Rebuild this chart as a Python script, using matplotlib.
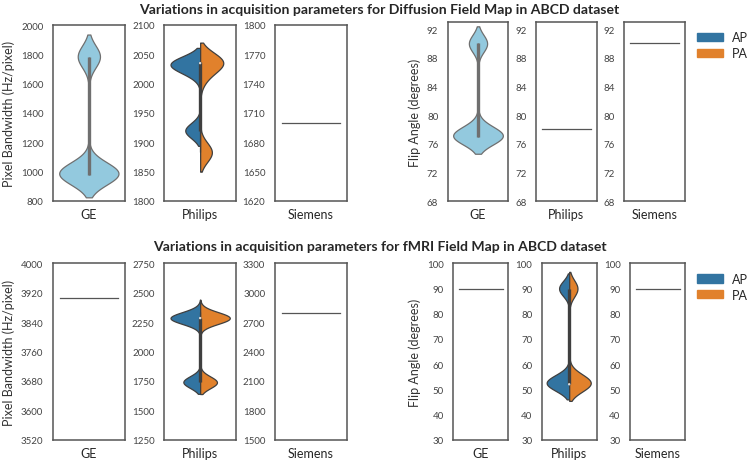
import numpy as np
import matplotlib
matplotlib.use("Agg")
import matplotlib.pyplot as plt
from matplotlib.patches import Patch

plt.rcParams['font.family'] = ['Lato', 'DejaVu Sans']

# ---------------- data ----------------
manufacturers = ["GE", "Philips", "Siemens"]
directions = ["AP", "PA"]

titles = ["Variations in acquisition parameters for Diffusion Field Map in ABCD dataset",
          "Variations in acquisition parameters for fMRI Field Map in ABCD dataset"]
bw_label = "Pixel Bandwidth (Hz/pixel)"
fa_label = "Flip Angle (degrees)"

# Diffusion field map: pixel bandwidth (Hz/pixel)
dwi_bw_ge_values = [975, 1000, 1785]
dwi_bw_ge_counts = [36, 37, 27]
dwi_bw_philips_ap_values = [1920, 2020, 2035]
dwi_bw_philips_ap_counts = [31, 17, 52]
dwi_bw_philips_pa_values = [1883, 2012, 2037]
dwi_bw_philips_pa_counts = [31, 12, 57]
dwi_bw_siemens_value = 1700
# Diffusion field map: flip angle (degrees)
dwi_fa_ge_values = [77, 78, 90]
dwi_fa_ge_counts = [62, 12, 26]
dwi_fa_philips_value = 78
dwi_fa_siemens_value = 90

# fMRI field map: pixel bandwidth (Hz/pixel)
fmri_bw_ge_value = 3906
fmri_bw_philips_ap_values = [1740, 2284, 2340]
fmri_bw_philips_ap_counts = [36, 63, 1]
fmri_bw_philips_pa_values = [1738, 2284, 2340]
fmri_bw_philips_pa_counts = [36, 63, 1]
fmri_bw_siemens_value = 2790
# fMRI field map: flip angle (degrees)
fmri_fa_ge_value = 90
fmri_fa_philips_ap_values = [52, 54, 90]
fmri_fa_philips_ap_counts = [50, 20, 30]
fmri_fa_philips_pa_values = [52, 54, 90]
fmri_fa_philips_pa_counts = [53, 20, 27]
fmri_fa_siemens_value = 90

# axis ranges / ticks
ylims = {
    "dwi_bw": [(800, 2000, 200), (1800, 2100, 50), (1620, 1800, 30)],
    "dwi_fa": [(68, 93, 4), (68, 93, 4), (68, 93, 4)],
    "fmri_bw": [(3520, 4000, 80), (1250, 2750, 250), (1500, 3300, 300)],
    "fmri_fa": [(30, 100, 10), (30, 100, 10), (30, 100, 10)],
}

# ---------------- style ----------------
W, H = 750, 464
GE_COLOR = "#93c9de"
AP_COLOR = "#3274a1"
PA_COLOR = "#e1812c"
GRAY_LIGHT = "#6f6f6f"
GRAY_DARK = "#3f3f3f"
SINGLE_GRAY = "#555555"
SPINE = "#555555"
TXT = "#262626"
HALF = 0.41

fig = plt.figure(figsize=(W / 100, H / 100), dpi=100)


def add_ax(x0, y_top, w, h):
    return fig.add_axes([x0 / W, 1 - (y_top + h) / H, w / W, h / H])


def style_ax(ax, name, lim):
    lo, hi, step = lim
    ax.set_xlim(-0.5, 0.5)
    ax.set_ylim(lo, hi)
    ax.set_yticks(np.arange(lo, hi + 0.01, step))
    ax.set_xticks([0])
    ax.set_xticklabels([name])
    ax.tick_params(axis='y', length=0, pad=6.8, labelsize=7, labelcolor="#444444")
    ax.tick_params(axis='x', length=0, pad=5, labelsize=9, labelcolor=TXT)
    for s in ax.spines.values():
        s.set_color(SPINE)
        s.set_linewidth(1.1)


def kde(values, counts, bw):
    v = np.asarray(values, float)
    w = np.asarray(counts, float)
    grid = np.linspace(v.min() - 2 * bw, v.max() + 2 * bw, 200)
    d = (w[:, None] * np.exp(-0.5 * ((grid[None, :] - v[:, None]) / bw) ** 2)).sum(0)
    d /= (w.sum() * bw * np.sqrt(2 * np.pi))
    return grid, d


def inner_box(ax, all_vals, gray, dot=True):
    q1, q2, q3 = np.percentile(all_vals, [25, 50, 75])
    iqr = q3 - q1
    lo = all_vals[all_vals >= q1 - 1.5 * iqr].min()
    hi = all_vals[all_vals <= q3 + 1.5 * iqr].max()
    ax.plot([0, 0], [lo, hi], color=gray, lw=0.9, solid_capstyle='butt', zorder=3)
    ax.plot([0, 0], [q1, q3], color=gray, lw=2.4, solid_capstyle='butt', zorder=3)
    if dot:
        ax.scatter([0], [q2], s=3, color="#dddddd", edgecolor='none', zorder=4)


def violin(ax, values, counts, bw, color, gray):
    g, d = kde(values, counts, bw)
    hw = HALF * d / d.max()
    ax.fill_betweenx(g, -hw, hw, facecolor=color, edgecolor=gray, lw=0.9, zorder=2)
    inner_box(ax, np.repeat(values, counts).astype(float), gray, dot=False)


def split_violin(ax, vals_a, cnt_a, bw_a, vals_b, cnt_b, bw_b):
    ga, da = kde(vals_a, cnt_a, bw_a)
    gb, db = kde(vals_b, cnt_b, bw_b)
    m = max(da.max(), db.max())
    ax.fill_betweenx(ga, 0, -HALF * da / m, facecolor=AP_COLOR, edgecolor=GRAY_DARK, lw=0.9, zorder=2)
    ax.fill_betweenx(gb, 0, HALF * db / m, facecolor=PA_COLOR, edgecolor=GRAY_DARK, lw=0.9, zorder=2)
    allv = np.concatenate([np.repeat(vals_a, cnt_a), np.repeat(vals_b, cnt_b)]).astype(float)
    inner_box(ax, allv, GRAY_DARK)


def single(ax, value):
    ax.plot([-0.4, 0.4], [value, value], color=SINGLE_GRAY, lw=0.9)


bw_x = [52.7, 164.0, 274.7]
bw_w = 72.3
top_fa_x = [447.7, 536.0, 624.3]
top_fa_w = 60.6
bot_fa_x = [453.4, 541.7, 630.0]
bot_fa_w = 55.0

# ---------- top row: diffusion ----------
axs = [add_ax(x, 26, bw_w, 176) for x in bw_x]
for ax, name, lim in zip(axs, manufacturers, ylims["dwi_bw"]):
    style_ax(ax, name, lim)
violin(axs[0], dwi_bw_ge_values, dwi_bw_ge_counts, 75, GE_COLOR, GRAY_LIGHT)
split_violin(axs[1], dwi_bw_philips_ap_values, dwi_bw_philips_ap_counts, 13,
             dwi_bw_philips_pa_values, dwi_bw_philips_pa_counts, 16.5)
single(axs[2], dwi_bw_siemens_value)

axf = [add_ax(x, 23, top_fa_w, 179) for x in top_fa_x]
for ax, name, lim in zip(axf, manufacturers, ylims["dwi_fa"]):
    style_ax(ax, name, lim)
violin(axf[0], dwi_fa_ge_values, dwi_fa_ge_counts, 1.2, GE_COLOR, GRAY_LIGHT)
single(axf[1], dwi_fa_philips_value)
single(axf[2], dwi_fa_siemens_value)

# ---------- bottom row: fMRI ----------
bxs = [add_ax(x, 264.3, bw_w, 176.4) for x in bw_x]
for ax, name, lim in zip(bxs, manufacturers, ylims["fmri_bw"]):
    style_ax(ax, name, lim)
single(bxs[0], fmri_bw_ge_value)
split_violin(bxs[1], fmri_bw_philips_ap_values, fmri_bw_philips_ap_counts, 50,
             fmri_bw_philips_pa_values, fmri_bw_philips_pa_counts, 50)
single(bxs[2], fmri_bw_siemens_value)

bxf = [add_ax(x, 264.3, bot_fa_w, 176.4) for x in bot_fa_x]
for ax, name, lim in zip(bxf, manufacturers, ylims["fmri_fa"]):
    style_ax(ax, name, lim)
single(bxf[0], fmri_fa_ge_value)
split_violin(bxf[1], fmri_fa_philips_ap_values, fmri_fa_philips_ap_counts, 3.0,
             fmri_fa_philips_pa_values, fmri_fa_philips_pa_counts, 3.3)
single(bxf[2], fmri_fa_siemens_value)

# ---------- texts ----------
fig.text(379.5 / W, 1 - 14 / H, titles[0], ha='center', va='baseline',
         fontsize=10.1, fontweight='bold', color=TXT)
fig.text(379.5 / W, 1 - 251.3 / H, titles[1], ha='center', va='baseline',
         fontsize=10.1, fontweight='bold', color=TXT)
for yc in (114, 352.5):
    fig.text(9 / W, 1 - yc / H, bw_label, rotation=90, ha='center', va='center',
             fontsize=9, color="#333333")
for yc in (113, 352.5):
    fig.text(414.5 / W, 1 - yc / H, fa_label, rotation=90, ha='center', va='center',
             fontsize=9, color="#333333")

handles = [Patch(facecolor=AP_COLOR, edgecolor=AP_COLOR, label=directions[0]),
           Patch(facecolor=PA_COLOR, edgecolor=PA_COLOR, label=directions[1])]
for ytop in (32.5, 273.8):
    leg = fig.legend(handles=handles, loc='upper left',
                     bbox_to_anchor=(696.7 / W, 1 - ytop / H),
                     frameon=False, borderpad=0, borderaxespad=0,
                     handlelength=2.08, handleheight=0.64, handletextpad=0.72,
                     labelspacing=0.3, fontsize=9)
    for t in leg.get_texts():
        t.set_color(TXT)

fig.savefig("out.png", dpi=100)
